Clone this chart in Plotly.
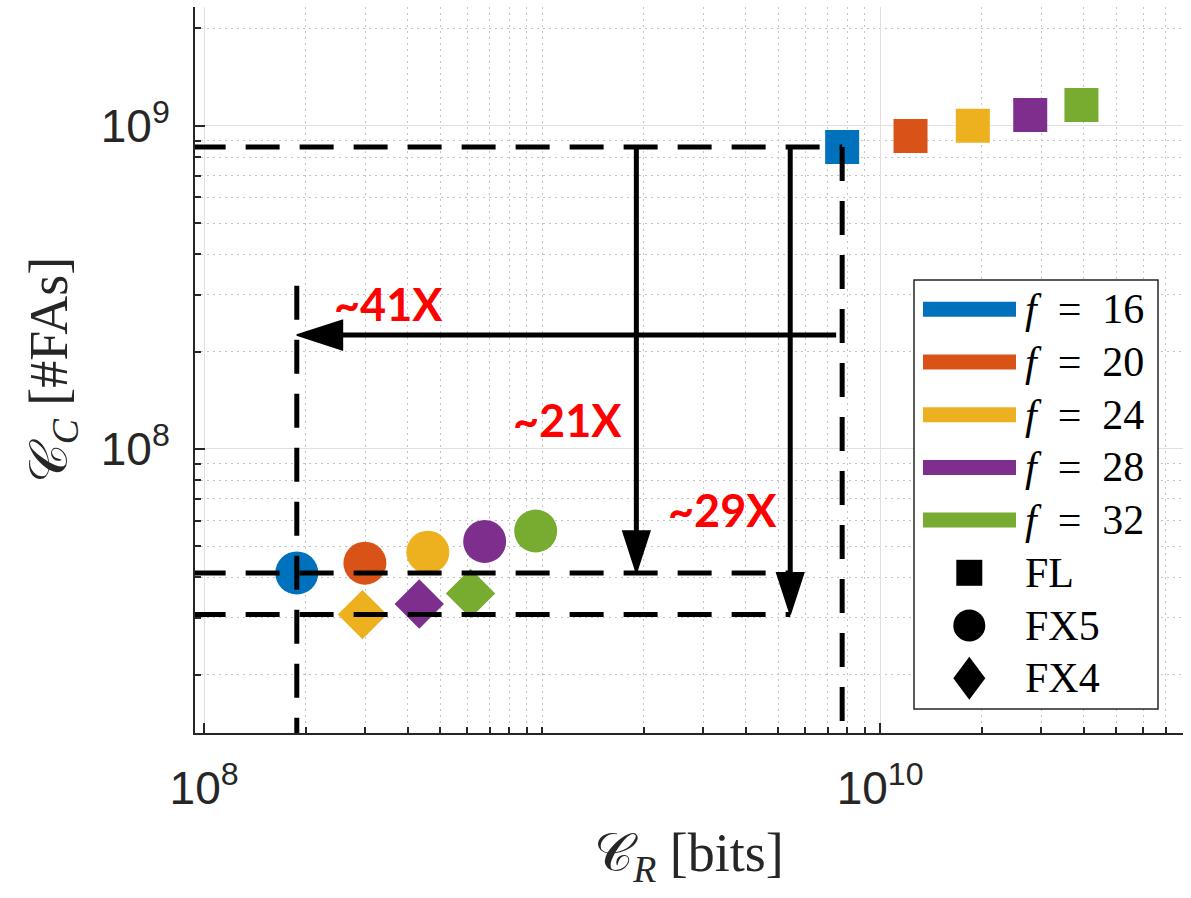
import math
import plotly.graph_objects as go

# ---------------- data ----------------
F_LABELS = ["16", "20", "24", "28", "32"]
COLORS = ["#0072BD", "#D95319", "#EDB120", "#7E2F8E", "#77AC30"]

# FL (squares)
FL_CR = [7.72e9, 1.23e10, 1.88e10, 2.78e10, 3.94e10]
FL_CC = [8.59e8, 9.29e8, 1.00e9, 1.08e9, 1.16e9]
# FX5 (circles)
FX5_CR = [1.88e8, 2.99e8, 4.59e8, 6.76e8, 9.57e8]
FX5_CC = [4.13e7, 4.43e7, 4.79e7, 5.17e7, 5.57e7]
# FX4 (diamonds) for f = 24, 28, 32
FX4_F = ["24", "28", "32"]
FX4_CR = [2.94e8, 4.33e8, 6.14e8]
FX4_CC = [3.07e7, 3.31e7, 3.57e7]

# reduction arrows
ARROW_X = [1.90e9, 5.42e9]          # vertical arrows (C_R positions)
H_ARROW_Y = 2.25e8                  # horizontal arrow (C_C position)
H_ARROW_TAIL = 7.41e9
V_DASH_TOP = 3.2e8                  # top of the vertical dashed line at FX5 f=16
ARROW_TEXT = ["~41X", "~21X", "~29X"]
ARROW_TEXT_X = [3.52e8, 1.19e9, 3.41e9]
ARROW_TEXT_Y = [2.81e8, 1.23e8, 6.46e7]

X_TICKS = [1e8, 1e10]
X_TICKTEXT = ["10<sup>8</sup>", "10<sup>10</sup>"]
Y_TICKS = [1e8, 1e9]
Y_TICKTEXT = ["10<sup>8</sup>", "10<sup>9</sup>"]
X_MINOR = [k * 10 ** n for n in range(7, 11) for k in range(1, 10) if (k * 10 ** n) not in X_TICKS]
Y_MINOR = [k * 10 ** n for n in range(7, 10) for k in range(1, 10) if (k * 10 ** n) not in Y_TICKS]

X_RANGE = [7.973, 10.896]
Y_RANGE = [7.1207, 9.3675]

# ---------------- layout geometry (pixels) ----------------
W_FIG, H_FIG = 1191, 898
L, T, R, B = 195, 7, 8, 165
PW, PH = W_FIG - L - R, H_FIG - T - B
PX_PER_DEC_X = PW / (X_RANGE[1] - X_RANGE[0])
PX_PER_DEC_Y = PH / (Y_RANGE[1] - Y_RANGE[0])


def pxx(xp):
    return (xp - L) / PW


def pxy(yp):
    return 1 - (yp - T) / PH


lg = math.log10

fig = go.Figure()

# markers
fig.add_trace(go.Scatter(x=FL_CR, y=FL_CC, mode="markers",
                         marker=dict(symbol="square", size=34, color=COLORS, line=dict(width=0)),
                         showlegend=False, hoverinfo="skip"))
fig.add_trace(go.Scatter(x=FX5_CR, y=FX5_CC, mode="markers",
                         marker=dict(symbol="circle", size=43, color=COLORS, line=dict(width=0)),
                         showlegend=False, hoverinfo="skip"))
fx4_colors = [COLORS[F_LABELS.index(f)] for f in FX4_F]
fig.add_trace(go.Scatter(x=FX4_CR, y=FX4_CC, mode="markers",
                         marker=dict(symbol="diamond", size=38, color=fx4_colors, line=dict(width=0)),
                         showlegend=False, hoverinfo="skip"))

# dashed guide lines
xl = 10 ** (X_RANGE[0] - 0.01)
yb = 10 ** (Y_RANGE[0] - 0.01)
dash = dict(color="black", width=5, dash="34px,20px")
guides = [
    ([xl, FL_CR[0]], [FL_CC[0], FL_CC[0]]),
    ([FL_CR[0], FL_CR[0]], [FL_CC[0], yb]),
    ([FX5_CR[0], FX5_CR[0]], [V_DASH_TOP, yb]),
    ([xl, ARROW_X[1]], [FX5_CC[0], FX5_CC[0]]),
    ([xl, ARROW_X[1]], [FX4_CC[0], FX4_CC[0]]),
]
for gx, gy in guides:
    fig.add_trace(go.Scatter(x=gx, y=gy, mode="lines", line=dash,
                             showlegend=False, hoverinfo="skip"))

# arrows: shafts (stopping inside the heads) + arrow-shaped heads at the tips
solid = dict(color="black", width=5)
back_x = 10 ** (25 / PX_PER_DEC_X)
back_y = 10 ** (25 / PX_PER_DEC_Y)
fig.add_trace(go.Scatter(x=[H_ARROW_TAIL, FX5_CR[0] * back_x], y=[H_ARROW_Y, H_ARROW_Y],
                         mode="lines", line=solid, showlegend=False, hoverinfo="skip"))
fig.add_trace(go.Scatter(x=[ARROW_X[0], ARROW_X[0]], y=[FL_CC[0], FX5_CC[0] * back_y],
                         mode="lines", line=solid, showlegend=False, hoverinfo="skip"))
fig.add_trace(go.Scatter(x=[ARROW_X[1], ARROW_X[1]], y=[FL_CC[0], FX4_CC[0] * back_y],
                         mode="lines", line=solid, showlegend=False, hoverinfo="skip"))
fig.add_trace(go.Scatter(x=[FX5_CR[0], ARROW_X[0], ARROW_X[1]],
                         y=[H_ARROW_Y, FX5_CC[0], FX4_CC[0]],
                         mode="markers",
                         marker=dict(symbol="arrow", size=[48, 44, 44], angle=[-90, 180, 180],
                                     color="#000000", opacity=1,
                                     line=dict(width=1.5, color="#000000")),
                         opacity=1, showlegend=False, hoverinfo="skip"))

annotations = []
for t, tx, ty in zip(ARROW_TEXT, ARROW_TEXT_X, ARROW_TEXT_Y):
    annotations.append(dict(x=lg(tx), y=lg(ty), xref="x", yref="y", text="<b>" + t + "</b>",
                            showarrow=False,
                            font=dict(family="Lato", size=45, color="#FF0000", weight=900),
                            xanchor="center", yanchor="middle"))

# manual legend
shapes = []
box = (914, 280, 1158, 709)
shapes.append(dict(type="rect", xref="paper", yref="paper", x0=pxx(box[0]), x1=pxx(box[2]),
                   y0=pxy(box[3]), y1=pxy(box[1]), line=dict(color="#262626", width=1.5),
                   fillcolor="white", layer="above"))
row0, dy = 309.3, 52.7
serif = dict(family="Liberation Serif", size=42, color="black")
for i, (f, c) in enumerate(zip(F_LABELS, COLORS)):
    yc = row0 + dy * i
    shapes.append(dict(type="line", xref="paper", yref="paper", x0=pxx(923), x1=pxx(1016),
                       y0=pxy(yc), y1=pxy(yc), line=dict(color=c, width=15), layer="above"))
    annotations.append(dict(x=pxx(1023), y=pxy(yc), xref="paper", yref="paper",
                            text="<i>f</i>\u2002=\u2002" + f, showarrow=False, font=serif,
                            xanchor="left", yanchor="middle"))
mx = 969.3
# square
yc = row0 + dy * 5
shapes.append(dict(type="rect", xref="paper", yref="paper", x0=pxx(mx - 13), x1=pxx(mx + 13),
                   y0=pxy(yc + 13), y1=pxy(yc - 13), fillcolor="black", line=dict(width=0), layer="above"))
annotations.append(dict(x=pxx(1023), y=pxy(yc), xref="paper", yref="paper", text="FL",
                        showarrow=False, font=serif, xanchor="left", yanchor="middle"))
# circle
yc = row0 + dy * 6
shapes.append(dict(type="circle", xref="paper", yref="paper", x0=pxx(mx - 16), x1=pxx(mx + 16),
                   y0=pxy(yc + 16), y1=pxy(yc - 16), fillcolor="black", line=dict(width=0), layer="above"))
annotations.append(dict(x=pxx(1023), y=pxy(yc), xref="paper", yref="paper", text="FX5",
                        showarrow=False, font=serif, xanchor="left", yanchor="middle"))
# diamond
yc = row0 + dy * 7
path = "M {:.5f},{:.5f} L {:.5f},{:.5f} L {:.5f},{:.5f} L {:.5f},{:.5f} Z".format(
    pxx(mx), pxy(yc - 21.5), pxx(mx + 16), pxy(yc), pxx(mx), pxy(yc + 21.5), pxx(mx - 16), pxy(yc))
shapes.append(dict(type="path", xref="paper", yref="paper", path=path, fillcolor="black",
                   line=dict(width=0), layer="above"))
annotations.append(dict(x=pxx(1023), y=pxy(yc), xref="paper", yref="paper", text="FX4",
                        showarrow=False, font=serif, xanchor="left", yanchor="middle"))

axis_common = dict(
    type="log", showline=True, linecolor="#262626", linewidth=2, mirror=False,
    ticks="inside", ticklen=10, tickwidth=2, tickcolor="#262626",
    showgrid=True, gridcolor="#e0e0e0", gridwidth=1.2,
    tickmode="array", zeroline=False,
    tickfont=dict(family="Liberation Sans", size=46, color="#262626"),
)

fig.update_layout(
    width=W_FIG, height=H_FIG,
    margin=dict(l=L, r=R, t=T, b=B),
    paper_bgcolor="white", plot_bgcolor="white",
    showlegend=False,
    xaxis=dict(range=X_RANGE, tickvals=X_TICKS, ticktext=X_TICKTEXT,
               minor=dict(tickmode="array", tickvals=X_MINOR, ticks="inside", ticklen=6,
                          tickcolor="#262626", showgrid=True, gridcolor="#c4c4c4",
                          griddash="2px,4px", gridwidth=1),
               title=dict(text="\U0001D49E<sub><i>R</i></sub> [bits]", standoff=20,
                          font=dict(family="Liberation Serif", size=54, color="#262626")),
               ticklabelstandoff=14,
               **axis_common),
    yaxis=dict(range=Y_RANGE, tickvals=Y_TICKS, ticktext=Y_TICKTEXT,
               minor=dict(tickmode="array", tickvals=Y_MINOR, ticks="inside", ticklen=6,
                          tickcolor="#262626", showgrid=True, gridcolor="#c4c4c4",
                          griddash="2px,4px", gridwidth=1),
               title=dict(text="\U0001D49E<sub><i>C</i></sub> [#FAs]", standoff=16,
                          font=dict(family="Liberation Serif", size=54, color="#262626")),
               ticklabelstandoff=14,
               **axis_common),
    shapes=shapes,
    annotations=annotations,
)

fig.write_html("out.html")
